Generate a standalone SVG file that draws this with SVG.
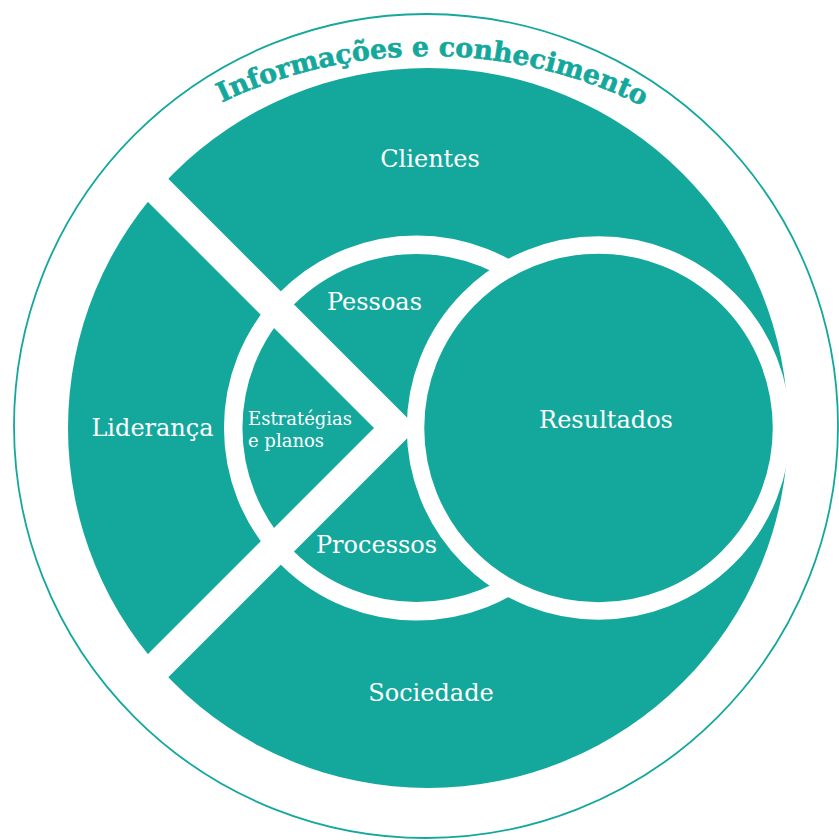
<svg xmlns="http://www.w3.org/2000/svg" width="839" height="840" viewBox="0 0 839 840">
  <style>
    .teal { fill: #14a89d; }
    .ring { fill: #14a89d; stroke: #ffffff; }
    .label { fill: #ffffff; font-family: "DejaVu Serif", "Liberation Serif", serif; font-size: 24px; text-anchor: middle; }
    .small { font-size: 18px; text-anchor: start; }
    .arc-title { fill: #14a89d; stroke: #14a89d; stroke-width: 0.6px; font-family: "DejaVu Serif", "Liberation Serif", serif; font-size: 26.8px; font-weight: bold; }
  </style>
  <defs>
    <path id="title-arc" d="M 187 120.7 A 483 483 0 0 1 677.3 125" fill="none"/>
  </defs>

  <!-- main disc -->
  <g id="base-disc">
    <circle class="teal" cx="428" cy="428" r="360"/>
  </g>

  <!-- inner disc (Pessoas / Estratégias / Processos) -->
  <g id="inner-disc">
    <circle class="ring" cx="416.5" cy="428" r="183.3" stroke-width="18.5"/>
  </g>

  <!-- white chevron dividing the sectors -->
  <g id="divider">
    <polygon fill="#ffffff" points="135,145.5 417.5,428 135,710.5 135,667 374,428 135,189"/>
  </g>

  <!-- results disc -->
  <g id="resultados">
    <circle class="ring" cx="598.5" cy="428" r="183" stroke-width="17.5"/>
    <text class="label" x="606" y="428">Resultados</text>
  </g>

  <g id="clientes">
    <text class="label" x="430" y="167">Clientes</text>
  </g>
  <g id="lideranca">
    <text class="label" x="152.5" y="436">Liderança</text>
  </g>
  <g id="sociedade">
    <text class="label" x="431" y="701">Sociedade</text>
  </g>
  <g id="pessoas">
    <text class="label" x="374.5" y="310">Pessoas</text>
  </g>
  <g id="processos">
    <text class="label" x="376.5" y="553">Processos</text>
  </g>
  <g id="estrategias">
    <text class="label small" x="248" y="425">Estratégias</text>
    <text class="label small" x="248" y="447">e planos</text>
  </g>

  <!-- outer boundary with the title running along it -->
  <g id="informacoes">
    <circle cx="426" cy="426" r="412" fill="none" stroke="#14a89d" stroke-width="1.8"/>
    <text class="arc-title"><textPath href="#title-arc" startOffset="50%" text-anchor="middle">Informações e conhecimento</textPath></text>
  </g>
</svg>
